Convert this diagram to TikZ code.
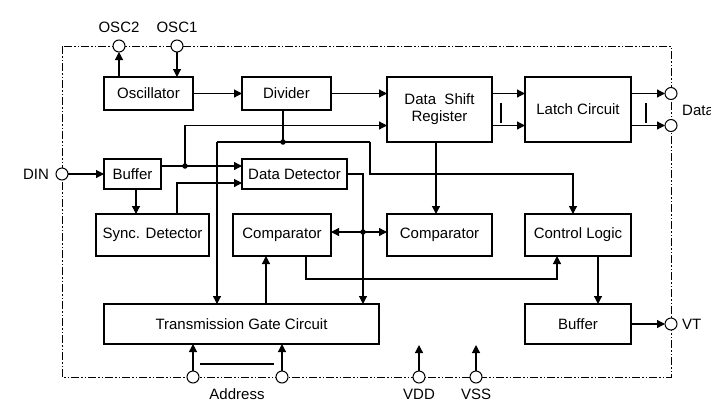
\documentclass[tikz,border=0pt]{standalone}
\usepackage{fontspec}
\setmainfont{Liberation Sans}
\usetikzlibrary{arrows.meta}
\begin{document}
\begin{tikzpicture}[x=1pt,y=-1pt,
  box/.style={draw,line width=1.2pt,inner sep=0pt,outer sep=0pt,font=\fontsize{15}{17}\selectfont,align=center},
  pin/.style={circle,draw,fill=white,line width=1pt,minimum size=12pt,inner sep=0pt,outer sep=0pt},
  lbl/.style={font=\fontsize{15}{17}\selectfont,inner sep=0pt},
  wire/.style={line width=1.2pt},
  arr/.style={wire,-{Triangle[length=8pt,width=8pt]}},
  biarr/.style={wire,{Triangle[length=8pt,width=8pt]}-{Triangle[length=8pt,width=8pt]}},
  dot/.style={circle,fill,inner sep=0pt,minimum size=5.5pt},
  border/.style={line width=1pt,dash pattern=on 8pt off 2pt on 1.5pt off 2pt on 1.5pt off 2pt}]
\useasboundingbox[fill=white] (0,0) rectangle (711,405);

% outline
\draw[border] (62,46) rectangle (671,377);

% boxes
\node[box,minimum width=89pt,minimum height=33pt] (osc) at (148.5,93.5) {Oscillator};
\node[box,minimum width=89pt,minimum height=33pt] (div) at (286.5,93.5) {Divider};
\node[box,minimum width=105pt,minimum height=65pt] (dsr) at (439.5,109.5) {Data\ \ Shift\\Register};
\node[box,minimum width=106pt,minimum height=65pt] (latch) at (578,109.5) {Latch Circuit};
\node[box,minimum width=57pt,minimum height=30pt] (buf1) at (132.5,174) {Buffer};
\node[box,minimum width=105pt,minimum height=30pt] (dd) at (294.5,174) {Data Detector};
\node[box,minimum width=113pt,minimum height=42pt] (sync) at (152.5,235) {Sync. Detector};
\node[box,minimum width=98pt,minimum height=42pt] (comp1) at (282,235) {Comparator};
\node[box,minimum width=105pt,minimum height=42pt] (comp2) at (439.5,235) {Comparator};
\node[box,minimum width=106pt,minimum height=42pt] (ctl) at (578,235) {Control Logic};
\node[box,minimum width=275pt,minimum height=40pt] (tg) at (241.5,324) {Transmission Gate Circuit};
\node[box,minimum width=106pt,minimum height=40pt] (buf2) at (578,324) {Buffer};

% pins
\node[pin] (osc2) at (119,46) {};
\node[pin] (osc1) at (177,46) {};
\node[pin] (din) at (62,174) {};
\node[pin] (d1) at (671,93.5) {};
\node[pin] (d2) at (671,125.5) {};
\node[pin] (vt) at (671,324) {};
\node[pin] (a1) at (193,377) {};
\node[pin] (a2) at (282,377) {};
\node[pin] (vdd) at (419,377) {};
\node[pin] (vss) at (476,377) {};

% pin labels
\node[lbl] (losc2) at (119,27) {OSC2};
\node[lbl] (losc1) at (177,27) {OSC1};
\node[lbl] (ldin) at (36,174) {DIN};
\node[lbl,anchor=west] (ldata) at (682,110) {Data};
\node[lbl,anchor=west] (lvt) at (682,324) {VT};
\node[lbl] (laddr) at (237,394) {Address};
\node[lbl] (lvdd) at (419,394) {VDD};
\node[lbl] (lvss) at (476,394) {VSS};

% coordinates
\coordinate (j1) at (185,166);
\coordinate (j2) at (283,142);
\coordinate (bend1) at (217,142);
\coordinate (bend2) at (370,142);
\coordinate (bend3) at (573,174);
\coordinate (j3) at (363,232);
\coordinate (bend4) at (306,279);
\coordinate (bend5) at (557,279);
\coordinate (dsrin2) at (387,125.5);
\coordinate (vddend) at (419,345);
\coordinate (vssend) at (476,345);
\coordinate (ovl) at (200,364);
\coordinate (ovr) at (274,364);
\coordinate (bar1t) at (501,103);
\coordinate (bar1b) at (501,123);
\coordinate (bar2t) at (646,103);
\coordinate (bar2b) at (646,123);

% connectors
\draw[arr] (osc2 |- osc.north) -- (osc2.south);
\draw[arr] (osc1.south) -- (osc1 |- osc.north);
\draw[arr] (osc.east) -- (div.west);
\draw[arr] (div.east) -- (dsr.west |- div.east);
\draw[arr] (din.east) -- (buf1.west);

\draw[wire] (buf1.east |- j1) -- (j1);
\draw[arr] (j1) -- (dd.west |- j1);
\draw[arr] (j1) |- (dsrin2);

\draw[wire] (div.south -| j2) -- (j2);
\draw[wire] (bend1) -- (bend2);
\draw[arr] (bend1) -- (tg.north -| bend1);
\draw[arr] (bend2) |- (bend3) -- (ctl.north -| bend3);

\draw[arr] ([xshift=3.5pt]buf1.south) -- ([xshift=3.5pt]buf1.south |- sync.north);
\draw[arr] ([xshift=24.5pt]sync.north) |- ([yshift=-9pt]dd.west);

\draw[arr] (dd.east) -| (tg.north -| j3);
\draw[biarr] (comp1.east |- j3) -- (comp2.west |- j3);

\draw[arr] (comp1.south -| bend4) -- (bend4) -- (bend5) -- (ctl.south -| bend5);
\draw[arr] ([xshift=24.5pt]tg.north) -- ([xshift=24.5pt]tg.north |- comp1.south);
\draw[arr] ([xshift=-3.5pt]dsr.south) -- ([xshift=-3.5pt]dsr.south |- comp2.north);

\draw[arr] ([yshift=16pt]dsr.east) -- ([yshift=16pt]latch.west);
\draw[arr] ([yshift=-16pt]dsr.east) -- ([yshift=-16pt]latch.west);
\draw[wire] (bar1t) -- (bar1b);
\draw[arr] (latch.east |- d1) -- (d1.west);
\draw[arr] (latch.east |- d2) -- (d2.west);
\draw[wire] (bar2t) -- (bar2b);

\draw[arr] ([xshift=20pt]ctl.south) -- ([xshift=20pt]ctl.south |- buf2.north);
\draw[arr] (buf2.east) -- (vt.west);

\draw[arr] (a1.north) -- (a1 |- tg.south);
\draw[arr] (a2.north) -- (a2 |- tg.south);
\draw[wire] (ovl) -- (ovr);
\draw[arr] (vdd.north) -- (vddend);
\draw[arr] (vss.north) -- (vssend);

% junction dots
\node[dot] (dj1) at (j1) {};
\node[dot] (dj2) at (j2) {};
\node[dot] (dj3) at (j3) {};
\end{tikzpicture}
\end{document}
